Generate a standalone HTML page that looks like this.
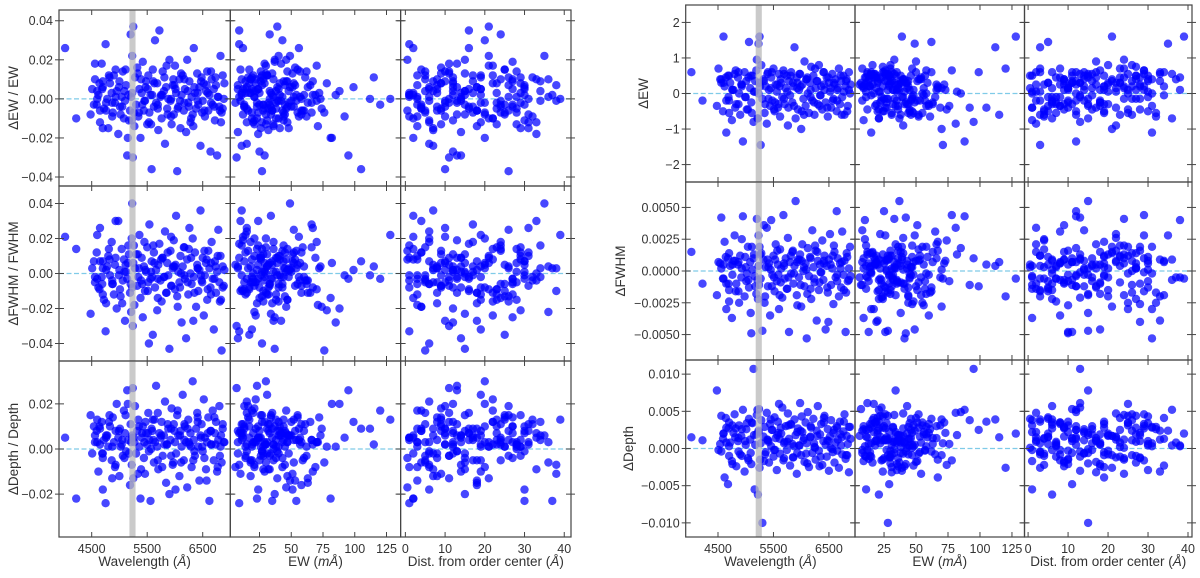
<!DOCTYPE html>
<html><head><meta charset="utf-8">
<style>
html,body{margin:0;padding:0;background:#fff;}
svg text{font-family:"Liberation Sans","DejaVu Sans",sans-serif;fill:#333;}
</style></head>
<body>
<svg id="chart" xmlns="http://www.w3.org/2000/svg" width="1200" height="573" viewBox="0 0 1200 573"></svg>
<script>
// ---- data: one entry per spectral line ----
const wavelength = [4020,4480,4510,4560,4590,4620,4650,4680,4700,4720,4750,4780,4800,4830,4860,
4880,4900,4920,4950,4980,5000,5010,5040,5060,5080,5100,5120,5140,5160,5190,
5200,5220,5230,5240,5250,5270,5280,5300,5320,5340,5360,5380,5400,5420,5440,
5460,5480,5500,5520,5540,5560,5580,5600,5620,5640,5660,5680,5700,5720,5740,
5760,5780,5800,5820,5840,5860,5880,5900,5920,5940,5960,5980,6000,6020,6040,
6060,6080,6100,6120,6140,6160,6180,6200,6220,6240,6260,6280,6300,6320,6340,
6360,6380,6400,6420,6440,6460,6480,6500,6520,6540,6560,6580,6600,6620,6640,
6660,6680,6700,6720,6740,6760,6780,6800,6820,6840,6860,6880,4220,4560,4600,
4640,4700,4760,4820,4870,4930,5020,5090,5150,5210,5330,5410,5470,5530,5610,
5690,5770,5850,5930,6010,6090,6170,6250,6330,6410,6490,6570,6650,6730,6810,
4600,4650,4700,4760,4810,4870,4930,4990,5050,5110,5170,5230,5350,5390,5450,
5510,5570,5630,5690,5750,5810,5870,5930,5990,6050,6110,6170,6230,6290,6350,
6410,6470,6530,6590,6650,6710,6770,6830,6890,4540,4690,5260,5590,5970,6860];
const ewMilliA = [12,34,8,22,45,67,15,29,51,38,9,73,26,41,18,
55,31,6,88,24,47,13,36,62,19,42,27,95,11,58,
33,21,49,7,39,71,16,28,53,44,14,81,25,37,60,
10,46,30,20,66,35,105,17,52,43,23,78,32,9,57,
40,26,48,15,63,29,112,37,54,21,45,12,70,34,27,
50,18,41,85,31,59,24,8,46,38,67,20,43,30,56,
14,74,35,28,49,11,61,39,22,92,33,47,16,54,25,
36,120,19,44,65,29,52,13,40,76,31,58,23,42,128,
17,48,35,26,63,10,45,38,82,21,51,33,99,27,44,
15,69,30,56,24,40,11,47,36,72,19,53,32,115,28,
20,35,14,48,27,62,9,39,23,55,31,17,44,28,70,
12,36,52,25,41,19,58,33,8,46,30,66,22,38,15,
50,26,43,11,57,34,21,47,29,13,40,24,60,18,32];
const distCenter = [2,15,8,27,4,19,31,11,6,23,1,14,29,9,17,
25,3,20,12,33,7,16,28,5,22,10,30,13,1,18,
24,6,35,11,21,3,26,15,9,32,19,2,14,27,8,
38,12,23,5,17,30,10,25,4,20,13,29,7,16,1,
22,11,34,6,18,28,3,15,24,9,38,13,21,2,26,
17,8,31,12,19,5,27,14,0.5,23,10,33,6,20,16,
29,4,11,25,18,7,32,13,22,1,15,28,9,37,12,
24,3,19,30,8,14,26,10,21,5,17,31,2,13,39,
23,7,18,29,11,4,25,15,20,36,9,27,12,6,34,
16,1,22,10,30,14,5,24,18,8,28,3,19,12,26,
5,18,27,10,22,3,14,30,8,25,12,1,20,33,6,
16,28,9,24,2,19,31,11,26,4,15,29,7,21,13,
34,17,0.5,23,10,27,3,19,12,30,6,24,15,36,9];
// relative residuals, in units of 1e-3
const relEW_e3 = [26,-8,5,10,-3,2,-12,18,6,-5,28,0,-15,8,3,
-7,12,-2,4,-18,9,-4,1,14,-10,-1,7,-29,2,-6,
33,-11,22,-30,37,-14,11,-3,16,-9,5,-20,3,19,-6,
-1,9,-13,12,-7,2,-36,15,-4,30,-2,8,-16,35,1,
-10,14,4,-23,6,-5,0,20,-1,-13,7,-8,17,3,-37,
-4,10,-15,2,12,-6,5,-17,20,-2,9,-12,1,-8,26,
3,-5,13,-3,6,-24,11,-1,8,-9,4,14,-6,2,-27,
10,-3,5,-11,7,-29,1,-4,22,-7,12,0,-10,18,0,
8,-15,-6,11,-2,15,-8,4,-20,1,13,-3,6,-12,9,
-5,2,17,-9,5,-1,10,-4,-14,3,-7,7,-2,11,-6,
4,-6,9,-2,12,-9,1,6,-4,15,-11,3,-7,10,-1,
5,-13,8,-3,2,11,-8,0,7,-5,13,-2,4,-10,6,
-1,9,-6,3,14,-4,1,-12,8,-3,5,-7,2,10,-5];
const relFWHM_e3 = [21,-23,3,-5,12,-8,26,-2,7,-15,-33,4,10,-1,18,
-6,-12,5,-20,30,2,-9,14,-4,8,-27,1,-3,16,-11,
-6,20,40,-30,6,-18,3,11,-7,-2,22,-14,9,-25,4,
-10,1,15,-5,28,-3,7,-35,12,-8,2,-21,5,17,-4,
-16,9,-2,24,-11,6,-1,-43,13,-7,3,19,-9,33,-13,
1,-5,10,-28,4,15,-3,-37,8,-12,26,0,-6,20,-2,
12,-19,5,-10,2,36,-4,9,-24,-1,6,-15,13,3,-8,
18,-3,-32,7,-11,1,25,-5,10,-44,4,-7,14,-2,22,
-9,3,-17,8,-4,30,-13,1,6,-22,11,-6,2,-40,16,
-3,9,-11,21,5,-8,-1,14,-27,3,-5,8,-12,4,-16,
-3,7,-12,2,14,-6,9,-1,-17,5,11,-8,3,-4,18,
-10,1,6,-14,8,-2,12,-7,4,-19,0,15,-5,9,-11,
3,-1,13,-9,6,-3,10,-15,2,7,-6,16,-2,4,-8];
const relDepth_e3 = [5,15,-2,3,8,-10,2,12,-18,4,-24,6,1,10,-5,
14,3,-8,20,5,-12,9,2,-3,17,7,-1,26,4,-16,
11,-7,6,27,-13,3,19,-2,8,13,1,-22,5,10,-4,
-11,7,2,16,4,-23,9,13,-6,3,28,1,-9,7,5,
12,-3,6,21,-15,2,9,-20,4,18,-7,11,3,-2,15,
6,-12,8,1,24,-5,10,3,-17,13,2,7,-8,30,4,
-3,9,16,1,-14,6,11,-1,22,5,-9,3,14,-23,8,
2,17,-5,7,12,-10,4,19,1,-6,9,3,-22,6,13,
10,-2,5,15,-13,8,1,-4,20,3,-11,7,12,-1,4,
16,-8,2,9,-18,6,11,3,-5,14,1,-14,8,2,-3,
3,9,-4,6,12,1,-7,8,4,15,-2,5,10,-9,3,
7,0,13,-5,6,2,11,-3,8,17,-6,4,9,1,-1,
12,5,-4,7,2,14,-8,6,3,10,-2,5,8,-6,11];
// absolute residuals
const absEW = [0.6,-0.35,0.7,0.4,-0.5,0.2,-1.1,0.5,-0.2,0.3,-0.75,0.1,0.55,-0.3,0.45,
0.0,-0.6,0.25,-1.35,0.6,-0.1,0.35,-0.45,1.45,0.15,-0.25,0.5,-0.8,0.05,0.65,
0.95,-0.7,1.4,0.3,1.6,-1.45,0.8,-0.15,0.4,-0.55,0.2,-0.85,0.6,0.1,-0.35,
0.45,-0.2,0.7,-0.5,0.25,0.05,-0.4,0.55,-0.65,0.3,-0.1,0.65,-0.3,0.15,0.5,
-0.9,0.35,-0.05,0.6,-0.25,0.2,1.3,-0.7,0.45,-0.45,0.1,0.55,-1.0,0.25,-0.15,
0.9,-0.35,0.4,0.0,-0.55,0.3,0.75,-0.2,0.5,-0.6,0.15,0.35,-0.3,0.8,-0.05,
0.2,-0.45,0.6,0.1,-0.25,0.45,-0.65,0.3,0.05,-0.4,0.55,-0.15,0.25,0.4,-0.5,
0.15,0.7,-0.3,0.35,-0.1,0.5,-0.6,0.2,0.4,-0.35,0.6,0.0,-0.2,0.3,1.6,
0.45,-0.55,0.1,0.65,-0.3,0.25,-0.45,0.5,0.05,-0.7,0.35,-0.15,0.6,-0.25,0.2,
0.55,-0.4,0.3,0.15,-0.5,0.4,-0.1,0.7,-0.35,0.25,0.45,-0.2,0.1,-0.6,0.35,
0.3,-0.2,0.5,0.1,-0.4,0.6,0.2,-0.1,0.45,-0.55,0.35,0.0,-0.3,0.55,0.15,
-0.45,0.25,0.4,-0.15,0.05,0.5,-0.35,0.3,0.2,-0.6,0.45,0.1,-0.25,0.35,-0.05,
0.6,-0.4,0.15,0.3,-0.2,0.5,0.05,-0.5,0.25,0.4,-0.1,0.2,-0.3,0.55,0.1];
const absFWHM = [0.0015,-0.0019,0.0007,0.0002,-0.0006,0.0023,-0.0030,0.0010,-0.0015,0.0004,-0.0037,0.0008,0.0028,-0.0010,0.0005,
-0.0025,0.0012,-0.0005,0.0043,-0.0020,0.0003,-0.0008,0.0019,-0.0013,0.0007,-0.0049,0.0001,0.0010,-0.0004,-0.0018,
0.0041,-0.0022,0.0028,-0.0011,0.0019,-0.0006,0.0014,-0.0047,0.0009,-0.0025,0.0003,0.0034,-0.0012,0.0006,-0.0035,
0.0040,-0.0003,0.0012,-0.0016,0.0021,-0.0008,0.0005,-0.0030,0.0017,0.0002,-0.0021,0.0044,-0.0006,0.0010,-0.0014,
0.0026,-0.0048,0.0007,-0.0002,0.0015,-0.0010,0.0004,0.0055,-0.0019,0.0009,-0.0005,0.0013,-0.0028,0.0021,0.0000,
-0.0012,0.0006,-0.0053,0.0018,-0.0004,0.0011,-0.0022,0.0032,0.0003,-0.0009,0.0016,-0.0039,0.0008,-0.0015,0.0005,
-0.0001,0.0024,-0.0007,0.0012,-0.0046,0.0004,-0.0017,0.0009,0.0029,-0.0011,0.0002,-0.0026,0.0015,-0.0005,0.0047,
0.0010,-0.0020,0.0006,-0.0013,0.0031,-0.0003,0.0008,-0.0048,0.0014,-0.0008,0.0002,0.0019,-0.0010,0.0042,-0.0006,
0.0011,-0.0024,0.0005,-0.0016,0.0007,0.0025,-0.0002,-0.0033,0.0013,-0.0007,0.0036,0.0003,-0.0012,0.0009,-0.0019,
0.0004,-0.0005,0.0016,-0.0027,0.0008,0.0001,-0.0014,0.0020,-0.0009,0.0006,-0.0040,0.0012,-0.0003,0.0007,-0.0017,
0.0005,-0.0010,0.0014,-0.0003,0.0008,-0.0016,0.0002,0.0011,-0.0007,0.0019,-0.0012,0.0004,-0.0020,0.0009,0.0001,
-0.0005,0.0016,-0.0009,0.0006,-0.0014,0.0012,-0.0002,0.0007,-0.0011,0.0003,-0.0018,0.0010,-0.0006,0.0015,-0.0001,
0.0008,-0.0013,0.0005,0.0020,-0.0008,0.0002,-0.0015,0.0011,-0.0004,0.0006,-0.0010,0.0013,-0.0003,0.0009,-0.0007];
const absDepth = [0.0015,0.0078,-0.0002,0.0044,0.0013,-0.0039,0.0028,-0.0048,0.0035,0.0008,-0.0017,0.0021,0.0046,-0.0024,0.0010,
0.0031,-0.0008,0.0017,0.0052,-0.0031,0.0005,0.0026,-0.0013,0.0040,0.0012,-0.0021,0.0034,0.0107,-0.0055,0.0019,
0.0045,-0.0062,0.0024,0.0053,-0.0026,0.0007,0.0038,-0.0100,0.0016,0.0029,-0.0005,0.0048,0.0011,-0.0019,0.0033,
0.0003,0.0025,-0.0011,0.0042,0.0014,-0.0029,0.0036,0.0060,-0.0007,0.0020,0.0055,-0.0016,0.0009,0.0030,-0.0002,
0.0047,0.0013,-0.0023,0.0032,0.0006,-0.0012,0.0039,0.0018,-0.0034,0.0027,0.0004,0.0061,-0.0009,0.0022,0.0011,
-0.0018,0.0035,0.0007,0.0049,-0.0025,0.0015,0.0028,-0.0006,0.0040,0.0002,-0.0015,0.0024,0.0057,-0.0003,0.0019,
0.0033,-0.0022,0.0010,0.0044,0.0005,-0.0011,0.0026,-0.0030,0.0016,0.0038,-0.0001,0.0021,-0.0019,0.0008,0.0030,
0.0012,-0.0026,0.0036,0.0004,-0.0008,0.0023,0.0046,-0.0014,0.0017,0.0006,-0.0032,0.0029,0.0011,-0.0004,0.0020,
0.0041,0.0003,-0.0021,0.0027,0.0014,-0.0010,0.0034,-0.0006,0.0018,0.0052,-0.0017,0.0009,0.0025,-0.0002,0.0013,
0.0007,0.0031,-0.0012,0.0022,0.0043,-0.0007,0.0016,0.0001,-0.0024,0.0035,0.0010,-0.0005,0.0028,0.0015,-0.0009,
0.0020,0.0008,-0.0010,0.0031,0.0015,-0.0004,0.0026,0.0010,-0.0016,0.0035,0.0005,0.0022,-0.0008,0.0012,0.0039,
-0.0002,0.0018,0.0028,-0.0013,0.0009,0.0033,0.0003,-0.0006,0.0024,0.0014,-0.0020,0.0030,0.0007,0.0017,-0.0011,
0.0041,0.0011,0.0001,0.0025,-0.0003,0.0019,0.0036,-0.0009,0.0013,0.0006,0.0027,-0.0015,0.0021,0.0004,0.0029];

// tick definitions
const wlTicks = [4500,5500,6500];
const wlTickLabels = ["4500","5500","6500"];
const ewTicks = [25,50,75,100,125];
const ewTickLabels = ["25","50","75","100","125"];
const distTicks = [0,10,20,30,40];
const distTickLabels = ["0","10","20","30","40"];
const relEWTicks = [-40,-20,0,20,40];
const relEWTickLabels = ["−0.04","−0.02","0.00","0.02","0.04"];
const relFWTicks = [-40,-20,0,20,40];
const relFWTickLabels = ["−0.04","−0.02","0.00","0.02","0.04"];
const relDTicks = [-20,0,20];
const relDTickLabels = ["−0.02","0.00","0.02"];
const absEWTicks = [-2,-1,0,1,2];
const absEWTickLabels = ["−2","−1","0","1","2"];
const absFWTicks = [-0.005,-0.0025,0,0.0025,0.005];
const absFWTickLabels = ["−0.0050","−0.0025","0.0000","0.0025","0.0050"];
const absDTicks = [-0.01,-0.005,0,0.005,0.01];
const absDTickLabels = ["−0.010","−0.005","0.000","0.005","0.010"];
const bandRange = [5180,5290];

const NS = "http://www.w3.org/2000/svg";
const svg = document.getElementById("chart");
function mk(tag, attrs, parent){
  const e = document.createElementNS(NS, tag);
  for (const k in attrs) e.setAttribute(k, attrs[k]);
  (parent||svg).appendChild(e);
  return e;
}
function lin(d0,d1,r0,r1){ return v => r0 + (v-d0)/(d1-d0)*(r1-r0); }

const figures = [
  { id:"relative", cols:[59,230.3,400.6,571], rows:[10,186,361,537],
    xd:[[3911,6997],[2,136.1],[-1.2,41.7]],
    yd:[[-44.6,45.5],[-50,50],[-39,39]],
    ys:[relEW_e3, relFWHM_e3, relDepth_e3],
    yt:[relEWTicks, relFWTicks, relDTicks],
    ytl:[relEWTickLabels, relFWTickLabels, relDTickLabels],
    ylab:["ΔEW / EW","ΔFWHM / FWHM","ΔDepth / Depth"], ylabX:[18,18,18] },
  { id:"absolute", cols:[685.7,855,1024.5,1192], rows:[5,182,360,537],
    xd:[[3918,6970],[2.3,134.8],[-0.9,41]],
    yd:[[-2.49,2.49],[-0.007,0.007],[-0.0119,0.0119]],
    ys:[absEW, absFWHM, absDepth],
    yt:[absEWTicks, absFWTicks, absDTicks],
    ytl:[absEWTickLabels, absFWTickLabels, absDTickLabels],
    ylab:["ΔEW","ΔFWHM","ΔDepth"], ylabX:[648,625,633] }
];
const xs = [wavelength, ewMilliA, distCenter];
const xt = [wlTicks, ewTicks, distTicks];
const xtl = [wlTickLabels, ewTickLabels, distTickLabels];
const colNames = ["wavelength","ew","dist"];
const rowNames = ["ew","fwhm","depth"];

figures.forEach(f => {
  for (let r=0; r<3; r++){
    const y0=f.rows[r], y1=f.rows[r+1];
    const Y = lin(f.yd[r][0], f.yd[r][1], y1, y0);
    for (let c=0; c<3; c++){
      const x0=f.cols[c], x1=f.cols[c+1];
      const X = lin(f.xd[c][0], f.xd[c][1], x0, x1);
      const g = mk("g", {});
      
      
      const clipId = "clip-"+f.id+r+c;
      const cp = mk("clipPath", {id:clipId}, g);
      mk("rect", {x:x0,y:y0,width:x1-x0,height:y1-y0}, cp);
      const inner = mk("g", {"clip-path":"url(#"+clipId+")"}, g);
      const zl = mk("line", {x1:x0,x2:x1,y1:Y(0),y2:Y(0),stroke:"#7fcbe8","stroke-width":1.3,"stroke-dasharray":"5,2.5"}, inner);
      
      
      const xv = xs[c], yv = f.ys[r];
      const n = Math.min(xv.length, yv.length);
      for (let i=0;i<n;i++){
        const p = mk("circle", {cx:X(xv[i]).toFixed(1), cy:Y(yv[i]).toFixed(1), r:4.2, fill:"#0000ff","fill-opacity":0.72}, inner);
        
        
      }
      if (c===0){
        const b = mk("rect", {x:X(bandRange[0]), y:y0, width:X(bandRange[1])-X(bandRange[0]), height:y1-y0, fill:"#b8b8b8","fill-opacity":0.75}, inner);
        
        
      }
      mk("rect", {x:x0,y:y0,width:x1-x0,height:y1-y0,fill:"none",stroke:"#444","stroke-width":1.2}, g);
      xt[c].forEach((t,k) => {
        const tx = X(t);
        if (tx < x0-0.5 || tx > x1+0.5) return;
        mk("line", {x1:tx,x2:tx,y1:y1,y2:y1-5,stroke:"#444","stroke-width":1}, g);
        mk("line", {x1:tx,x2:tx,y1:y0,y2:y0+5,stroke:"#444","stroke-width":1}, g);
        if (r===2){
          const tl = mk("text", {x:tx, y:y1+16, "text-anchor":"middle","font-size":12.5}, g);
          tl.textContent = xtl[c][k];
          
          
        }
      });
      f.yt[r].forEach((t,k) => {
        const ty = Y(t);
        mk("line", {x1:x0-4,x2:x0+5,y1:ty,y2:ty,stroke:"#444","stroke-width":1}, g);
        mk("line", {x1:x1-5,x2:x1+4,y1:ty,y2:ty,stroke:"#444","stroke-width":1}, g);
        if (c===0){
          const tl = mk("text", {x:x0-6, y:ty+4.5, "text-anchor":"end","font-size":12.5}, g);
          tl.textContent = f.ytl[r][k];
          
          
        }
      });
      if (r===2){
        const xl = mk("text", {x:(x0+x1)/2, y:566, "text-anchor":"middle","font-size":13.5}, g);
        if (c===1){ xl.innerHTML = 'EW (<tspan font-style="italic">mÅ</tspan>)'; }
        else if (c===0){ xl.innerHTML = 'Wavelength (<tspan font-style="italic">Å</tspan>)'; }
        else { xl.innerHTML = 'Dist. from order center (<tspan font-style="italic">Å</tspan>)'; }
        
        
      }
    }
    const yc = (y0+y1)/2, lx = f.ylabX[r];
    const yl = mk("text", {x:lx, y:yc, "text-anchor":"middle","font-size":13.5, transform:"rotate(-90 "+lx+" "+yc+")"});
    yl.textContent = f.ylab[r];
    
    
  }
});
</script>
</body></html>
